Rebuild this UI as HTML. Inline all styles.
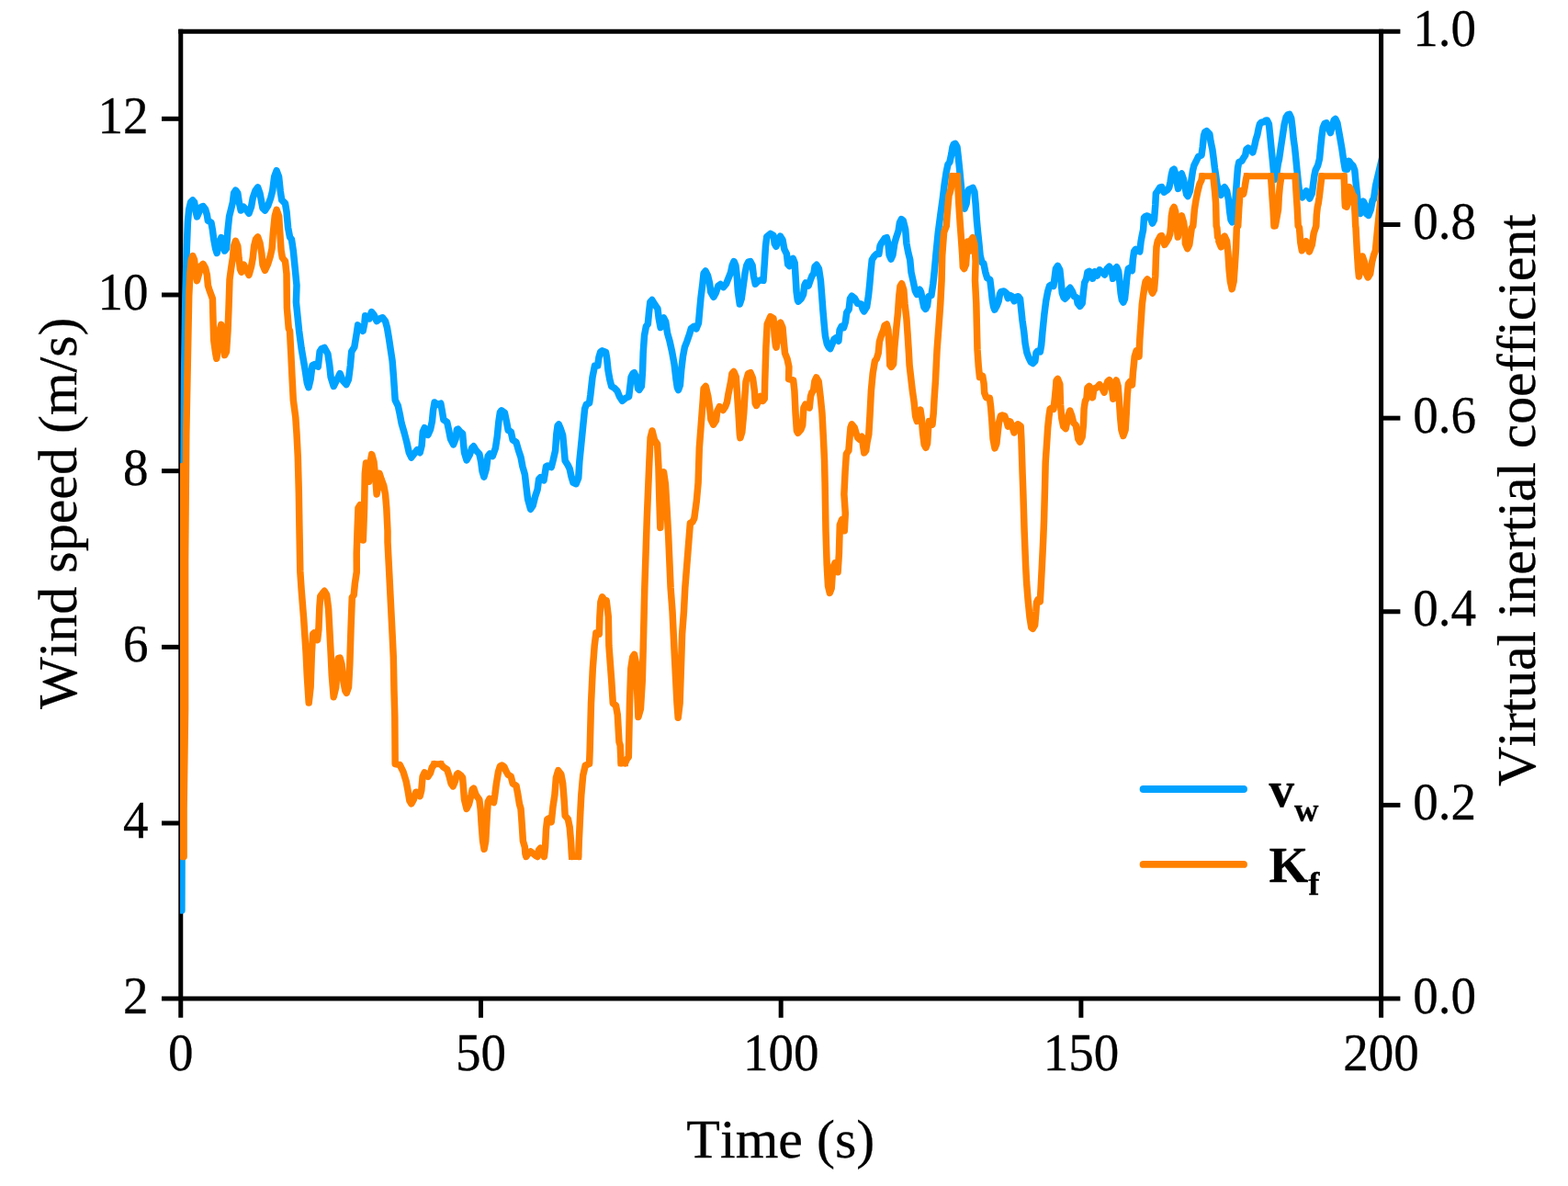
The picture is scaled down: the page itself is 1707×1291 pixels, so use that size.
<!DOCTYPE html>
<html lang="en">
<head>
<meta charset="utf-8">
<title>Wind speed and virtual inertial coefficient</title>
<style>
html,body{margin:0;padding:0;background:#fff;}
body{width:1707px;height:1291px;overflow:hidden;}
svg{display:block;}
text{font-family:"Liberation Serif","Times New Roman",serif;fill:#000;font-kerning:none;stroke:#000;stroke-width:0.3px;}
.t{font-size:55px;}
.a{font-size:60px;}
.l{font-size:55px;font-weight:bold;}
.s{font-size:36.685px;font-weight:bold;}
</style>
</head>
<body>
<svg width="1707" height="1291" viewBox="0 0 1707 1291">
<rect x="0" y="0" width="1707" height="1291" fill="#fff"/>
<g stroke="#000" stroke-width="5.0" fill="none" stroke-linecap="butt">
<line x1="196.77" y1="31.70" x2="196.77" y2="1107.80"/>
<line x1="175.97" y1="1087.00" x2="1524.40" y2="1087.00"/>
<line x1="194.27" y1="34.20" x2="1524.40" y2="34.20"/>
<line x1="175.97" y1="896.02" x2="196.77" y2="896.02"/>
<line x1="175.97" y1="704.34" x2="196.77" y2="704.34"/>
<line x1="175.97" y1="512.66" x2="196.77" y2="512.66"/>
<line x1="175.97" y1="320.98" x2="196.77" y2="320.98"/>
<line x1="175.97" y1="129.30" x2="196.77" y2="129.30"/>
<line x1="1503.60" y1="876.38" x2="1524.40" y2="876.38"/>
<line x1="1503.60" y1="665.76" x2="1524.40" y2="665.76"/>
<line x1="1503.60" y1="455.14" x2="1524.40" y2="455.14"/>
<line x1="1503.60" y1="244.52" x2="1524.40" y2="244.52"/>
<line x1="523.48" y1="1087.00" x2="523.48" y2="1107.80"/>
<line x1="850.18" y1="1087.00" x2="850.18" y2="1107.80"/>
<line x1="1176.89" y1="1087.00" x2="1176.89" y2="1107.80"/>
</g>
<defs><clipPath id="c"><rect x="196.05" y="0" width="1307.55" height="1291"/></clipPath></defs>
<g clip-path="url(#c)" fill="none" stroke-width="7.5" stroke-linejoin="round" stroke-linecap="round">
<path stroke="#00a2ff" d="M197.9,991.0 L198.5,800.0 L199.3,600.0 L200.0,500.0 L200.7,400.0 L201.9,321.9 L203.2,273.0 L204.4,241.6 L205.7,227.8 L207.6,220.2 L209.8,218.0 L211.6,220.2 L213.2,230.3 L214.5,235.9 L217.0,230.3 L219.1,225.3 L221.1,224.6 L223.6,227.8 L225.4,234.1 L226.4,240.3 L229.9,242.2 L231.4,250.4 L232.7,260.4 L234.6,270.5 L236.2,275.5 L238.3,266.7 L240.8,258.5 L242.7,262.9 L244.6,273.0 L246.5,270.5 L248.0,250.4 L249.6,235.3 L251.5,227.8 L253.4,220.2 L254.6,210.2 L256.5,207.1 L258.8,210.2 L260.3,220.2 L262.2,229.0 L265.3,225.3 L267.8,227.8 L271.0,232.2 L273.5,225.3 L275.3,215.2 L277.9,207.7 L280.6,203.9 L282.9,210.2 L284.8,220.2 L286.0,226.5 L288.5,229.0 L291.7,224.0 L294.8,215.2 L296.7,207.7 L298.6,192.6 L301.1,185.7 L303.6,192.6 L305.2,207.7 L306.7,217.7 L310.5,221.5 L312.0,230.3 L313.6,247.9 L315.5,257.9 L317.4,260.4 L319.3,273.0 L321.2,291.8 L323.0,310.6 L322.4,328.8 L325.6,360.2 L328.1,379.0 L331.8,400.4 L334.3,416.7 L336.0,421.7 L338.1,412.9 L340.0,397.9 L342.5,396.6 L346.3,399.1 L348.1,382.8 L350.0,379.7 L353.2,378.4 L356.9,385.3 L358.8,397.9 L360.1,410.4 L363.2,420.5 L367.0,412.9 L370.1,406.6 L373.2,414.2 L377.0,418.6 L379.5,412.9 L381.4,397.9 L382.7,382.8 L385.8,377.8 L388.3,362.7 L389.6,353.9 L395.1,360.2 L396.9,351.4 L397.6,343.8 L400.1,346.4 L402.0,347.0 L404.5,339.5 L407.0,342.6 L410.1,349.5 L413.3,347.0 L416.4,345.7 L419.5,349.5 L421.4,356.4 L423.3,367.7 L425.2,380.2 L427.1,392.8 L428.3,407.9 L429.6,426.7 L430.2,435.5 L433.3,441.7 L435.2,450.5 L437.1,460.6 L440.2,471.4 L442.8,481.4 L445.3,492.7 L447.8,498.0 L450.9,494.0 L454.1,489.6 L457.2,492.7 L459.1,485.2 L460.3,470.1 L462.2,465.7 L466.0,473.3 L468.5,467.6 L470.4,458.8 L471.6,446.3 L473.1,438.0 L476.6,440.5 L479.8,439.2 L481.0,445.6 L482.9,456.9 L486.7,459.5 L488.6,468.2 L490.5,477.7 L493.6,483.9 L496.1,477.7 L497.4,467.6 L498.6,467.0 L501.1,470.1 L503.6,472.0 L504.5,482.7 L505.5,492.7 L508.0,500.9 L511.2,495.2 L513.7,487.7 L515.6,485.8 L518.1,490.2 L521.8,494.0 L523.7,502.8 L525.0,512.8 L526.9,519.1 L529.4,510.3 L531.2,496.5 L533.1,494.0 L536.3,496.5 L539.4,487.7 L541.3,475.1 L542.9,458.8 L544.4,448.8 L545.9,446.9 L549.4,449.4 L551.3,458.2 L553.2,468.2 L556.3,470.1 L558.2,478.9 L562.0,481.4 L564.5,490.2 L567.0,497.7 L568.9,507.8 L571.4,516.6 L572.7,527.9 L574.5,542.9 L577.6,554.3 L580.1,550.5 L582.6,540.5 L585.1,533.0 L586.6,521.7 L588.2,519.8 L592.0,522.9 L593.3,515.4 L594.5,507.9 L596.4,506.9 L600.2,508.5 L602.0,501.6 L604.6,490.3 L605.8,472.7 L607.1,463.3 L608.3,462.0 L610.2,466.4 L612.7,474.0 L614.0,487.8 L615.2,501.6 L618.4,506.6 L620.2,510.4 L622.1,519.2 L624.0,525.4 L627.1,526.7 L629.7,520.4 L630.9,501.6 L632.8,482.8 L634.7,463.9 L636.6,445.1 L638.4,440.1 L641.6,438.8 L642.8,430.0 L645.0,410.5 L647.5,397.9 L650.7,397.9 L651.9,389.2 L653.8,382.9 L655.7,381.8 L659.5,383.5 L660.7,390.4 L662.0,403.0 L663.8,413.0 L665.7,420.5 L668.9,422.4 L672.0,425.6 L674.5,431.8 L677.4,436.3 L681.4,433.1 L684.6,431.8 L685.8,421.8 L687.1,410.5 L689.0,406.7 L690.5,405.7 L692.7,410.5 L694.6,423.0 L695.9,424.3 L698.4,420.5 L699.6,403.0 L700.2,384.1 L701.5,365.3 L703.4,355.3 L705.3,352.8 L706.5,340.2 L707.8,328.9 L709.9,326.6 L712.8,331.4 L715.9,335.8 L717.2,346.5 L719.1,356.5 L721.6,346.5 L722.5,345.9 L724.7,350.2 L726.6,362.8 L729.1,371.6 L731.6,382.9 L734.1,396.7 L736.0,413.0 L737.3,421.8 L738.5,424.6 L740.4,419.3 L741.7,403.0 L743.5,387.9 L745.4,377.9 L747.9,371.6 L750.5,364.1 L752.3,357.8 L755.5,355.3 L758.0,357.8 L760.5,351.5 L761.7,337.7 L763.0,323.9 L764.9,308.8 L766.1,297.5 L768.0,295.0 L770.5,300.0 L772.4,307.6 L773.7,317.6 L776.8,323.3 L779.3,318.9 L781.8,311.3 L784.3,309.5 L787.5,312.6 L790.6,308.8 L793.1,302.6 L795.6,296.3 L797.1,289.0 L799.0,284.6 L800.9,289.0 L802.2,300.3 L803.4,317.9 L805.3,331.0 L807.2,325.4 L809.1,311.6 L811.0,297.8 L812.8,289.0 L814.7,285.2 L816.9,284.6 L819.1,289.0 L820.4,300.3 L822.3,309.1 L825.4,305.9 L828.5,304.7 L831.0,305.3 L832.3,286.5 L833.5,267.7 L834.8,257.6 L838.8,254.4 L842.0,256.3 L843.2,265.1 L844.9,268.2 L847.0,262.6 L849.5,257.2 L852.0,261.3 L853.9,271.4 L856.4,276.4 L857.7,287.7 L859.5,289.6 L861.4,282.7 L863.3,281.4 L865.2,286.4 L866.2,302.8 L867.1,317.8 L868.3,326.6 L869.0,328.1 L872.1,325.3 L874.6,320.3 L875.9,310.3 L877.1,307.8 L880.2,310.9 L882.1,305.3 L884.0,300.2 L885.9,297.7 L887.1,290.2 L889.0,288.3 L891.5,292.7 L893.4,305.3 L894.7,321.6 L895.9,337.9 L897.2,353.0 L898.4,365.5 L900.3,374.3 L902.2,378.1 L903.8,379.6 L906.0,374.3 L907.9,369.3 L909.7,368.0 L912.9,371.2 L914.1,359.2 L916.0,355.5 L918.5,356.7 L920.4,350.5 L921.7,340.4 L924.2,336.6 L925.4,325.3 L927.3,322.2 L930.5,324.7 L933.6,330.4 L937.4,331.0 L939.2,336.6 L940.7,338.8 L943.6,334.1 L945.5,321.6 L946.8,309.0 L948.0,295.2 L949.3,282.7 L951.8,278.9 L954.3,276.4 L956.8,276.4 L958.1,267.6 L959.3,265.1 L963.1,259.5 L965.3,258.6 L966.9,265.1 L968.1,277.7 L970.0,282.0 L971.9,277.7 L973.8,265.1 L975.6,258.8 L978.1,251.3 L979.4,242.5 L981.3,238.7 L983.2,240.0 L985.7,250.0 L986.9,265.1 L988.8,275.1 L990.7,282.7 L992.0,296.5 L994.5,307.8 L996.3,316.6 L998.2,320.3 L1001.4,315.3 L1002.6,317.8 L1004.5,327.9 L1005.8,334.1 L1007.6,336.4 L1009.5,332.9 L1010.8,322.8 L1013.9,321.6 L1015.8,309.0 L1017.1,296.5 L1018.3,283.9 L1018.8,278.1 L1021.3,253.0 L1023.8,234.1 L1026.4,215.3 L1028.2,200.2 L1030.1,187.7 L1032.0,178.9 L1033.9,176.4 L1035.8,167.6 L1037.0,160.1 L1038.3,156.9 L1039.9,156.3 L1042.0,160.1 L1043.3,171.4 L1044.6,183.9 L1045.8,196.5 L1047.1,210.3 L1048.3,221.6 L1050.0,227.2 L1052.1,221.6 L1053.3,210.3 L1054.6,206.5 L1057.1,205.3 L1059.0,204.4 L1060.9,209.0 L1062.1,221.6 L1063.4,240.4 L1064.6,253.0 L1065.9,265.5 L1067.1,278.1 L1069.0,285.6 L1070.9,286.9 L1072.8,296.3 L1074.7,302.6 L1077.8,304.5 L1079.1,315.1 L1080.3,326.4 L1081.6,334.0 L1082.8,337.1 L1085.3,332.7 L1087.2,327.7 L1088.5,320.2 L1089.7,317.7 L1092.9,317.0 L1095.4,318.9 L1097.3,324.6 L1099.2,321.4 L1101.7,322.7 L1104.2,327.7 L1106.1,323.3 L1108.6,322.7 L1110.5,325.2 L1111.7,336.5 L1113.0,349.0 L1114.8,361.6 L1116.1,374.1 L1118.0,384.2 L1119.9,389.2 L1122.4,394.2 L1124.3,395.5 L1126.8,393.0 L1128.0,384.2 L1129.3,382.3 L1132.4,382.9 L1133.7,375.4 L1134.9,361.6 L1136.8,342.8 L1138.7,327.7 L1140.6,317.7 L1142.5,311.4 L1144.3,310.1 L1146.9,311.4 L1148.1,302.6 L1149.4,292.6 L1151.5,289.4 L1153.8,293.8 L1155.0,305.1 L1156.3,318.9 L1158.1,323.9 L1159.4,325.2 L1161.9,322.7 L1163.2,315.1 L1165.0,313.3 L1167.6,317.7 L1169.4,322.7 L1172.0,323.9 L1173.2,330.2 L1175.7,333.3 L1178.2,330.2 L1179.5,317.7 L1180.7,307.6 L1182.6,303.8 L1183.9,296.3 L1185.8,295.3 L1188.3,297.6 L1189.5,303.2 L1192.0,295.7 L1194.5,300.1 L1197.1,293.8 L1200.2,296.3 L1202.6,299.0 L1205.1,292.7 L1207.6,290.2 L1210.1,293.9 L1211.6,303.3 L1213.8,292.7 L1215.7,290.8 L1217.6,295.2 L1218.9,306.5 L1220.1,319.0 L1221.4,326.6 L1222.9,329.1 L1224.5,325.3 L1225.8,312.8 L1227.0,300.2 L1228.3,292.7 L1230.2,291.4 L1232.4,294.6 L1233.3,282.6 L1234.6,273.8 L1236.4,271.3 L1239.0,272.6 L1240.8,273.8 L1242.1,262.6 L1243.3,256.3 L1244.6,250.0 L1245.5,236.8 L1247.1,235.5 L1249.0,234.9 L1252.1,236.8 L1254.6,243.0 L1256.5,239.3 L1257.8,223.0 L1258.4,210.4 L1260.3,207.9 L1262.8,204.1 L1264.7,203.5 L1267.2,209.2 L1271.0,206.6 L1272.8,204.1 L1274.1,197.9 L1275.3,190.3 L1276.6,185.3 L1278.1,184.1 L1280.1,190.3 L1281.6,200.4 L1282.6,205.4 L1284.1,197.9 L1285.1,190.3 L1286.4,189.1 L1288.5,195.3 L1290.4,205.4 L1291.7,211.7 L1293.2,213.5 L1295.4,207.9 L1296.7,197.9 L1298.6,185.3 L1299.8,180.3 L1302.3,175.3 L1304.8,170.2 L1308.0,169.0 L1309.2,160.2 L1310.5,147.7 L1311.7,143.9 L1313.6,142.6 L1316.8,145.8 L1318.0,153.9 L1319.9,162.7 L1321.2,172.8 L1322.4,182.8 L1323.7,191.6 L1324.9,200.4 L1326.8,207.9 L1329.3,212.3 L1331.2,205.4 L1333.1,203.8 L1335.6,207.9 L1337.5,217.9 L1338.7,230.5 L1340.0,239.3 L1341.5,241.8 L1343.1,235.5 L1345.0,216.7 L1346.3,197.9 L1347.5,182.8 L1348.8,176.5 L1351.9,175.3 L1353.2,172.8 L1355.7,169.0 L1356.9,162.7 L1358.8,161.1 L1361.3,162.7 L1363.8,165.9 L1365.7,159.0 L1367.0,152.7 L1368.9,146.4 L1370.1,140.1 L1371.4,135.1 L1373.2,133.2 L1376.4,132.6 L1377.6,131.3 L1379.5,131.0 L1381.4,135.1 L1382.7,147.7 L1383.9,160.2 L1385.2,172.8 L1386.4,185.3 L1387.7,195.3 L1389.6,190.3 L1391.4,177.8 L1392.6,172.8 L1394.4,160.2 L1396.3,147.7 L1398.2,135.1 L1400.1,127.6 L1402.0,124.8 L1403.8,124.4 L1405.7,128.8 L1407.0,138.9 L1408.2,151.4 L1409.5,160.2 L1410.8,172.8 L1412.0,185.3 L1413.3,197.9 L1414.5,207.9 L1415.8,212.9 L1417.7,214.8 L1420.2,210.4 L1422.0,207.9 L1423.9,212.9 L1425.8,216.1 L1428.3,210.4 L1429.6,200.4 L1430.8,191.6 L1432.1,185.3 L1434.6,180.3 L1436.5,172.8 L1437.7,160.2 L1439.0,147.7 L1440.2,138.9 L1442.1,134.5 L1444.0,133.8 L1446.5,140.1 L1448.4,144.5 L1450.3,137.6 L1452.2,130.7 L1453.8,129.5 L1455.9,133.8 L1458.4,147.7 L1461.0,162.7 L1462.8,175.3 L1464.3,184.1 L1466.6,184.3 L1468.5,175.3 L1470.4,177.8 L1472.9,180.3 L1474.8,185.3 L1476.0,197.9 L1477.3,210.4 L1478.5,223.0 L1479.8,231.7 L1481.0,232.4 L1482.9,223.0 L1484.2,219.2 L1486.1,223.0 L1487.9,233.0 L1489.8,234.3 L1492.3,228.0 L1494.2,217.9 L1495.5,216.7 L1497.6,201.9 L1501.0,187.4 L1504.5,172.5"/>
<path stroke="#ff8000" d="M198.5,932.4 L198.5,507.5"/>
<path stroke="#ff8000" d="M200.1,932.4 L200.1,880.0 L201.6,772.0 L201.6,610.0 L202.8,472.0 L205.7,322.0 L206.9,298.1 L208.2,283.0 L209.8,278.6 L211.6,283.0 L212.8,295.6 L214.5,305.6 L216.6,298.1 L218.9,289.3 L221.1,287.4 L223.6,291.8 L225.4,299.3 L226.4,310.6 L227.7,315.0 L231.4,325.1 L232.0,347.7 L232.7,370.2 L234.6,384.1 L235.8,390.3 L237.7,377.8 L239.0,360.2 L240.8,353.3 L242.7,362.7 L244.6,386.6 L246.5,382.8 L248.0,360.2 L249.0,335.1 L250.0,304.3 L251.5,293.0 L253.4,280.5 L254.6,267.9 L256.5,262.3 L258.8,267.9 L260.0,280.5 L261.5,293.0 L262.8,296.2 L265.3,288.0 L267.8,293.0 L271.0,299.3 L273.5,290.5 L275.3,280.5 L276.6,267.9 L278.5,260.4 L280.6,257.9 L282.9,264.2 L284.8,275.5 L286.0,288.0 L288.5,294.3 L291.4,288.0 L294.2,279.2 L296.1,270.5 L297.3,254.1 L299.2,235.3 L301.1,228.4 L303.6,235.3 L304.8,254.1 L306.1,273.0 L307.4,280.5 L310.5,284.3 L312.0,298.1 L312.4,335.1 L314.3,357.7 L315.5,360.2 L316.8,385.3 L318.0,410.4 L319.3,435.5 L321.8,454.3 L323.0,471.9 L324.3,497.7 L325.3,535.3 L325.9,573.0 L326.8,621.9 L328.1,641.4 L330.6,672.8 L333.1,710.4 L334.3,735.5 L336.2,765.0 L338.1,748.1 L339.4,710.4 L340.6,690.3 L341.9,689.1 L343.8,695.3 L345.6,696.6 L346.9,685.3 L347.9,660.2 L348.8,648.9 L350.7,646.4 L353.2,643.3 L355.7,647.7 L357.6,662.7 L358.8,685.3 L360.1,710.4 L361.3,735.5 L363.2,758.7 L365.7,748.1 L367.0,729.2 L368.2,716.7 L370.1,716.1 L372.0,723.0 L373.9,741.8 L375.8,751.8 L377.3,754.3 L379.5,748.1 L380.8,723.0 L382.0,685.3 L383.3,650.2 L385.2,647.7 L386.4,635.1 L388.3,622.6 L388.2,602.6 L389.0,578.1 L390.0,553.0 L391.9,549.8 L393.8,559.2 L395.3,588.1 L396.6,553.0 L397.3,515.3 L398.5,504.0 L400.5,510.3 L401.6,524.3 L403.2,502.8 L404.7,494.6 L407.0,502.8 L408.9,521.6 L410.1,537.9 L412.0,527.9 L413.0,515.3 L415.1,521.6 L417.7,528.5 L419.5,537.9 L420.8,553.0 L422.0,578.1 L422.0,590.0 L423.3,615.1 L425.2,652.8 L427.1,690.4 L428.3,715.5 L429.0,751.9 L429.8,780.0 L430.2,831.5 L435.2,832.5 L439.0,840.2 L442.1,850.3 L444.0,860.3 L445.9,871.6 L447.8,874.8 L450.3,870.4 L452.8,862.2 L455.3,862.8 L457.2,866.6 L458.8,860.3 L460.1,845.3 L462.2,840.9 L466.0,845.3 L468.5,841.5 L470.4,835.2 L472.9,831.7 M479.8,831.7 L482.9,835.2 L486.7,837.7 L489.2,845.3 L491.1,852.8 L493.2,855.9 L495.5,850.3 L497.4,842.8 L498.6,841.8 L501.7,844.0 L503.6,846.5 L504.5,857.8 L505.5,870.4 L508.0,880.4 L510.5,875.4 L513.0,865.3 L514.3,859.1 L515.6,858.1 L518.1,865.3 L521.8,870.4 L523.1,880.4 L524.3,899.2 L525.6,915.6 L527.1,924.3 L528.7,915.6 L530.0,893.0 L531.2,872.9 L533.1,869.4 L536.3,872.9 L537.5,873.5 L538.8,865.3 L540.4,852.8 L542.5,840.2 L544.4,834.0 L546.3,833.0 L548.8,834.6 L551.3,840.2 L553.2,843.4 L556.3,845.3 L558.2,852.8 L562.0,855.3 L563.9,865.3 L565.5,875.4 L567.0,880.4 L568.2,896.7 L569.4,915.5 L571.3,921.8 L571.9,929.3 L572.8,932.5 L575.7,928.1 L577.6,926.8 L580.7,929.3 L583.8,931.8 L585.1,932.5 L586.4,925.6 L588.2,923.3 L590.8,925.6 L592.4,932.5 L593.6,921.8 L594.5,903.0 L595.8,891.7 L597.7,890.7 L600.2,894.8 L602.0,877.9 L603.9,865.3 L605.4,846.5 L607.7,838.7 L610.8,842.7 L612.7,852.8 L614.2,871.6 L615.2,887.9 L618.4,891.7 L620.2,900.5 L621.5,915.5 L622.5,932.5 M629.7,932.5 L630.3,915.5 L631.5,890.4 L632.8,865.3 L634.7,844.0 L637.2,833.3 L641.6,831.4 L642.2,815.1 L643.5,765.5 L645.3,727.9 L647.2,702.8 L648.9,689.0 L652.3,690.2 L652.9,671.4 L653.9,655.1 L655.6,649.8 L657.9,653.2 L660.2,653.6 L662.3,671.4 L662.9,702.8 L665.7,740.4 L667.3,765.5 L670.5,768.0 L672.3,778.1 L674.0,807.6 L675.2,811.3 L676.1,830.8 M680.5,830.8 L682.4,826.4 L684.3,823.9 L685.5,765.5 L686.8,727.9 L688.7,715.3 L690.5,712.5 L692.4,721.6 L693.7,753.0 L694.9,780.6 L697.4,771.8 L699.3,740.4 L700.3,702.8 L701.2,665.1 L701.8,640.0 L704.3,564.3 L705.6,533.0 L706.9,501.6 L708.1,476.5 L710.0,469.0 L712.5,479.0 L715.6,483.4 L716.9,507.9 L717.9,545.5 L718.8,574.4 L720.0,545.5 L721.3,517.9 L722.5,513.9 L724.4,526.7 L725.9,551.8 L727.6,581.9 L730.1,640.0 L732.0,665.1 L733.8,702.8 L735.7,740.4 L737.0,765.5 L738.2,781.2 L740.1,765.5 L741.4,727.9 L742.6,690.2 L744.5,665.1 L745.8,640.0 L751.4,569.4 L753.9,568.1 L755.8,564.3 L758.3,545.5 L760.1,525.5 L761.3,487.9 L763.2,462.8 L765.1,437.7 L766.1,423.0 L768.3,420.5 L770.8,431.4 L772.6,443.9 L773.9,456.5 L776.6,462.1 L779.5,457.7 L780.8,447.7 L783.3,442.7 L787.1,446.4 L789.6,442.7 L791.5,437.7 L792.7,430.1 L795.6,415.5 L796.9,406.7 L798.8,404.5 L801.3,410.5 L804.0,450.2 L805.3,472.8 L805.9,476.6 L807.8,470.3 L809.7,450.2 L810.9,431.4 L812.0,415.5 L814.5,406.7 L817.0,405.7 L819.5,411.7 L821.4,425.6 L822.2,438.9 L823.5,441.4 L826.0,436.4 L827.9,431.4 L830.4,436.4 L832.3,433.9 L832.7,415.5 L833.9,377.9 L835.2,352.8 L838.8,344.6 L842.0,346.7 L843.2,365.5 L844.5,376.8 L845.1,378.1 L847.0,365.5 L848.2,353.0 L849.7,351.1 L852.0,356.7 L853.3,371.8 L854.5,384.3 L857.0,390.6 L858.9,399.4 L858.6,412.6 L863.6,413.8 L864.9,425.1 L866.1,450.2 L867.4,469.0 L868.7,471.3 L871.8,467.8 L873.7,462.8 L874.9,443.9 L876.8,440.2 L879.3,441.4 L881.2,443.9 L882.5,431.4 L883.7,427.6 L885.6,425.1 L886.9,415.1 L888.7,411.0 L891.2,415.1 L893.1,431.4 L895.0,450.2 L896.3,475.3 L897.5,500.4 L898.1,525.5 L899.0,577.7 L900.2,615.3 L901.5,637.9 L903.3,645.4 L905.2,640.4 L906.7,617.8 L909.0,612.8 L911.5,615.3 L912.1,622.8 L913.4,602.8 L914.3,571.4 L916.5,565.7 L918.8,568.9 L919.3,577.7 L920.3,558.8 L918.9,538.1 L920.1,513.0 L921.4,494.1 L923.9,490.4 L925.1,475.3 L926.0,465.3 L927.3,461.8 L930.2,465.3 L932.0,471.5 L933.9,476.6 L935.8,478.4 L938.3,475.3 L939.6,485.3 L940.8,492.9 L942.7,490.4 L944.0,481.6 L945.8,472.8 L947.1,450.2 L948.4,425.1 L950.2,406.3 L952.4,393.1 L954.3,390.6 L956.2,384.3 L957.4,371.8 L959.3,365.5 L961.8,359.2 L963.1,354.2 L965.3,353.0 L966.9,359.2 L968.1,378.1 L968.8,397.5 L970.3,399.4 L972.6,396.3 L973.8,378.1 L975.6,359.2 L977.5,340.4 L978.8,321.6 L980.0,311.5 L981.7,308.8 L983.8,315.3 L985.0,330.4 L986.9,346.7 L988.2,365.5 L989.4,384.3 L990.1,397.5 L991.4,408.8 L993.3,425.1 L995.1,437.7 L996.6,452.8 L998.3,458.4 L1000.2,449.0 L1002.0,446.2 L1003.3,455.3 L1004.6,471.6 L1006.2,484.1 L1007.9,487.3 L1009.6,482.9 L1010.5,467.8 L1011.5,458.4 L1013.3,459.0 L1015.0,462.2 L1016.2,450.2 L1017.1,433.9 L1018.4,415.1 L1020.1,380.4 L1022.0,355.3 L1023.8,330.2 L1025.1,305.1 L1025.7,278.1 L1027.6,253.0 L1030.3,246.0 L1031.1,234.0 L1032.2,221.5 L1033.0,212.7 L1033.9,210.2 L1035.2,205.2 L1036.1,197.6 L1036.8,191.8 M1042.1,191.8 L1042.7,200.1 L1043.2,208.9 L1043.8,221.5 L1044.6,234.0 L1045.4,246.0 L1046.4,259.2 L1047.7,278.1 L1048.3,290.6 L1049.6,292.5 L1051.5,288.1 L1052.7,271.8 L1053.6,263.0 L1055.9,265.5 L1056.5,273.0 L1057.7,260.5 L1059.0,258.6 L1060.9,265.5 L1062.1,284.3 L1061.5,305.1 L1062.8,330.2 L1063.4,355.3 L1064.0,380.4 L1065.3,399.2 L1066.5,410.5 L1069.7,409.3 L1071.1,417.6 L1071.7,427.7 L1073.6,432.7 L1077.4,433.3 L1078.6,442.7 L1079.9,459.0 L1081.1,477.9 L1083.0,487.9 L1084.9,482.9 L1086.1,471.6 L1087.4,460.3 L1089.3,452.8 L1091.2,452.1 L1093.7,452.8 L1095.6,457.8 L1097.4,464.1 L1099.9,459.0 L1101.8,464.1 L1104.1,471.0 L1105.6,464.1 L1108.1,461.8 L1111.2,464.1 L1111.9,477.9 L1112.5,496.7 L1113.1,515.5 L1113.8,534.3 L1115.1,577.7 L1116.6,615.3 L1117.6,634.1 L1119.1,653.0 L1121.0,671.8 L1122.8,683.1 L1124.3,684.3 L1126.6,680.6 L1127.9,665.5 L1128.5,655.5 L1129.7,653.0 L1132.3,654.8 L1133.1,640.4 L1134.4,615.3 L1135.6,590.2 L1136.6,565.1 L1137.6,528.1 L1138.2,503.0 L1139.5,484.1 L1140.7,465.3 L1142.0,452.8 L1143.2,445.2 L1145.1,444.0 L1147.0,445.2 L1148.3,433.9 L1149.5,421.4 L1150.0,414.3 L1151.5,412.4 L1153.8,418.1 L1154.5,440.2 L1155.8,455.3 L1157.7,464.1 L1160.2,466.6 L1163.2,451.5 L1164.8,447.1 L1166.9,452.8 L1168.8,460.3 L1171.3,462.8 L1172.6,470.4 L1173.8,477.9 L1175.7,481.0 L1178.2,475.4 L1179.5,461.6 L1180.1,445.3 L1181.4,436.5 L1182.9,434.0 L1183.9,422.0 L1185.8,420.4 L1187.7,423.3 L1189.5,432.7 L1190.8,423.3 L1193.9,422.0 L1197.1,418.7 L1199.6,422.0 L1202.1,427.1 L1204.0,420.2 L1205.9,415.1 L1207.7,413.6 L1210.0,417.7 L1211.8,434.2 L1213.4,417.7 L1215.3,414.0 L1217.1,420.2 L1218.4,436.5 L1219.7,455.3 L1220.9,467.9 L1222.8,474.4 L1225.1,467.9 L1226.3,449.0 L1227.2,430.2 L1228.4,417.7 L1230.3,415.1 L1232.5,418.9 L1233.5,405.1 L1235.2,388.1 L1237.1,381.8 L1240.0,388.1 L1240.8,369.2 L1242.1,350.4 L1243.3,331.6 L1244.6,321.5 L1245.9,312.8 L1247.1,306.5 L1249.0,304.0 L1251.5,306.5 L1253.4,316.5 L1254.6,319.0 L1256.5,315.3 L1257.8,300.2 L1258.4,281.4 L1259.0,268.8 L1260.3,262.6 L1263.4,256.9 L1264.7,256.6 L1266.6,262.6 L1267.8,266.3 L1270.3,262.6 L1272.2,259.4 L1273.8,254.3 L1274.7,245.6 L1275.3,235.5 L1276.6,228.0 L1278.1,225.5 L1279.7,230.5 L1281.0,245.6 L1282.3,258.1 L1283.9,248.1 L1285.1,236.8 L1286.4,234.9 L1288.5,241.8 L1290.2,254.3 L1290.4,265.1 L1292.7,270.7 L1294.8,266.3 L1297.3,248.1 L1298.8,246.0 L1300.4,227.8 L1301.9,218.3 L1303.9,208.3 L1306.0,200.1 L1307.9,196.4 L1308.8,191.8 M1320.8,191.8 L1321.7,200.1 L1322.6,208.9 L1323.6,221.5 L1324.2,246.0 L1324.9,248.1 L1325.6,258.1 L1327.4,259.4 L1326.8,262.6 L1329.3,268.8 L1331.2,262.6 L1331.2,259.4 L1333.1,257.1 L1335.6,262.6 L1336.9,275.1 L1338.1,293.9 L1339.4,306.5 L1341.2,314.6 L1343.1,306.5 L1344.4,287.7 L1345.6,268.8 L1346.3,248.1 L1347.7,246.0 L1348.7,227.8 L1349.6,215.2 L1350.2,207.7 L1351.8,208.3 L1353.7,211.1 L1355.3,202.7 L1356.5,195.1 L1357.3,191.8 M1383.5,191.8 L1384.1,200.1 L1385.1,215.2 L1386.0,227.8 L1387.0,246.0 L1388.3,245.8 L1391.6,227.8 L1392.2,215.2 L1393.3,202.7 L1394.4,195.1 L1394.9,191.8 M1410.1,191.8 L1410.7,202.7 L1411.5,215.2 L1412.3,227.8 L1413.2,246.0 L1414.5,247.7 L1415.8,264.0 L1417.4,272.8 L1420.2,265.2 L1421.8,262.7 L1423.3,267.7 L1425.4,274.0 L1428.3,266.5 L1430.2,253.9 L1432.8,246.0 L1433.3,234.0 L1434.3,225.2 L1435.2,221.5 L1436.1,215.2 L1437.6,202.7 L1438.5,195.1 L1439.0,191.8 M1463.1,191.8 L1463.6,202.7 L1463.9,215.2 L1464.4,224.6 L1466.0,225.2 L1467.2,221.5 L1468.2,208.9 L1469.0,203.6 L1470.7,206.4 L1472.2,211.4 L1474.1,213.6 L1474.4,221.5 L1475.2,234.0 L1475.7,246.0 L1476.0,247.7 L1477.3,272.8 L1478.5,291.6 L1479.4,301.0 L1481.7,287.8 L1483.2,279.0 L1485.4,285.3 L1487.3,297.9 L1489.2,301.9 L1491.7,297.9 L1493.6,285.3 L1495.5,277.8 L1497.4,272.8 L1499.2,253.9 L1501.1,235.1 L1504.5,203.8"/>
<path stroke="#ff8000" stroke-width="6.9" stroke-linecap="square" stroke-linejoin="miter" d="M472.9,831.7 L479.8,831.7 M622.5,932.5 L629.7,932.5 M676.1,830.8 L680.5,830.8 M1036.8,191.8 L1042.1,191.8 M1308.8,191.8 L1320.8,191.8 M1357.3,191.8 L1383.5,191.8 M1394.9,191.8 L1410.1,191.8 M1439.0,191.8 L1463.1,191.8"/>
</g>
<line x1="1503.60" y1="31.70" x2="1503.60" y2="1107.80" stroke="#000" stroke-width="5.0"/>
<text class="t" transform="translate(161.5,1102.6) scale(1,1.03)" text-anchor="end">2</text>
<text class="t" transform="translate(161.5,911.6) scale(1,1.03)" text-anchor="end">4</text>
<text class="t" transform="translate(161.5,719.9) scale(1,1.03)" text-anchor="end">6</text>
<text class="t" transform="translate(161.5,528.3) scale(1,1.03)" text-anchor="end">8</text>
<text class="t" transform="translate(161.5,336.6) scale(1,1.03)" text-anchor="end">10</text>
<text class="t" transform="translate(161.5,144.9) scale(1,1.03)" text-anchor="end">12</text>
<text class="t" transform="translate(1538.3,1102.6) scale(1,1.03)">0.0</text>
<text class="t" transform="translate(1538.3,892.0) scale(1,1.03)">0.2</text>
<text class="t" transform="translate(1538.3,681.4) scale(1,1.03)">0.4</text>
<text class="t" transform="translate(1538.3,470.7) scale(1,1.03)">0.6</text>
<text class="t" transform="translate(1538.3,260.1) scale(1,1.03)">0.8</text>
<text class="t" transform="translate(1538.3,49.8) scale(1,1.03)">1.0</text>
<text class="t" transform="translate(196.8,1165.3) scale(1,1.03)" text-anchor="middle">0</text>
<text class="t" transform="translate(523.5,1165.3) scale(1,1.03)" text-anchor="middle">50</text>
<text class="t" transform="translate(850.2,1165.3) scale(1,1.03)" text-anchor="middle">100</text>
<text class="t" transform="translate(1176.9,1165.3) scale(1,1.03)" text-anchor="middle">150</text>
<text class="t" transform="translate(1503.6,1165.3) scale(1,1.03)" text-anchor="middle">200</text>
<text class="a" x="849.8" y="1259.6" text-anchor="middle">Time (s)</text>
<text class="a" transform="translate(83.0,558.7) rotate(-90)" text-anchor="middle">Wind speed (m/s)</text>
<text class="a" transform="translate(1671.4,544.6) rotate(-90)" text-anchor="middle" textLength="623" lengthAdjust="spacing">Virtual inertial coefficient</text>
<g fill="none" stroke-width="7.9" stroke-linecap="round">
<line x1="1244.6" y1="859" x2="1354" y2="859" stroke="#00a2ff"/>
<line x1="1244.6" y1="940.9" x2="1354" y2="940.9" stroke="#ff8000"/>
</g>
<text class="l" x="1381.5" y="878.0">v<tspan class="s" dy="15.7">w</tspan></text>
<text class="l" x="1381.5" y="960.3">K<tspan class="s" dy="14.1">f</tspan></text>
</svg>
</body>
</html>
